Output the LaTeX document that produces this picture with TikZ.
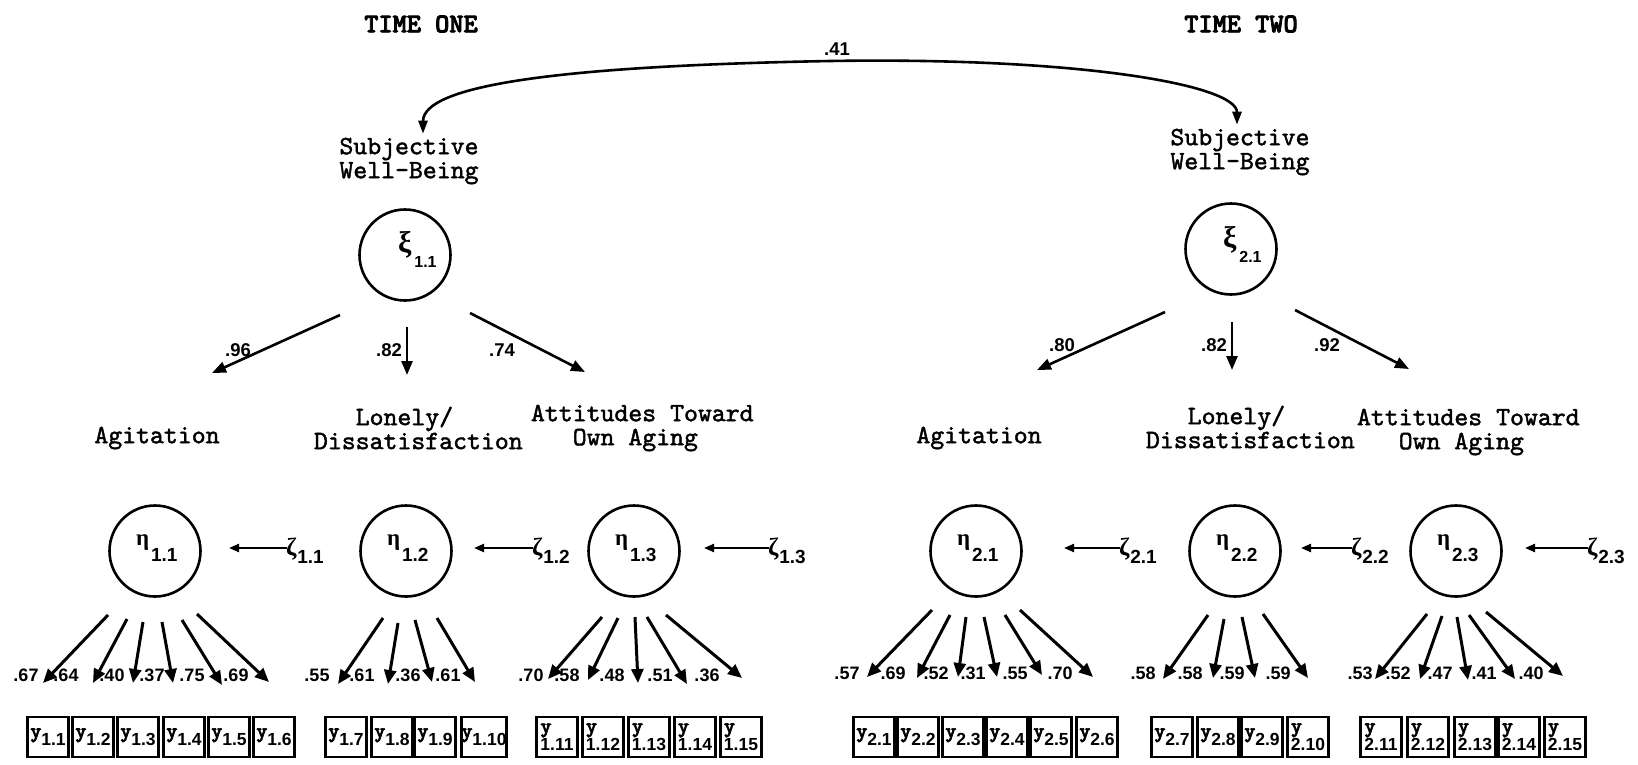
\documentclass[tikz,border=0pt]{standalone}
\usepackage{fontspec}
\newfontfamily\sansfam{Liberation Sans}
\newfontfamily\grkfam{Liberation Serif}
\newfontfamily\labfam{lmmono10-regular.otf}[FakeBold=1.6]
\newfontfamily\ttbfam{lmmonolt10-bold.otf}[FakeBold=3]
\usetikzlibrary{arrows.meta}

% fonts for labels, numbers, subscripts and Greek symbols
\newcommand\labf[1]{\labfam\fontsize{#1}{24}\selectfont}
\newcommand\ttbf[1]{\ttbfam\fontsize{#1}{24}\selectfont}
\newcommand\subf[1]{\sansfam\bfseries\fontsize{#1}{#1}\selectfont}
\newcommand\grkf[1]{\grkfam\bfseries\fontsize{#1}{#1}\selectfont}
\newcommand\xil[1]{{\grkf{30}ξ}\kern3pt\raisebox{-15pt}{\subf{16}#1}}
\newcommand\etal[1]{{\grkf{23}η}\kern2pt\raisebox{-16pt}{\subf{19}#1}}
\newcommand\zetl[1]{{\grkf{25}ζ}\kern1pt\raisebox{-8pt}{\subf{19}#1}}
\newcommand\yb[1]{{\ttbf{21}y}\raisebox{-8pt}{\subf{17.5}#1}}
\newcommand\ystk[1]{\vbox{\baselineskip=15pt\hbox{\ttbf{21}y}\hbox{\subf{17.5}#1}}}
% loading arrow: latent node, start offset, indicator box, tip offset above the box
\newcommand\ld[4]{\draw[loadarrow] ([shift={#2}]#1.center) -- ([shift={#4}]#3.north);}

\tikzset{
  every node/.style={inner sep=0pt, outer sep=0pt},
  lbl/.style={font=\labf{26.5}, align=center},
  ttl/.style={font=\ttbf{27}},
  coef/.style={font=\subf{18.5}},
  lcoef/.style={font=\subf{18}},
  lat/.style={circle, draw, line width=2.6pt, minimum size=91pt},
  obs/.style={draw, line width=2.8pt, minimum width=41pt, minimum height=40pt},
  regarrow/.style={line width=2.6pt, -{Triangle[length=14pt,width=11pt]}},
  loadarrow/.style={line width=3pt, -{Triangle[length=14pt,width=12pt]}},
  disarrow/.style={line width=2.2pt, -{Triangle[length=10pt,width=8pt]}},
  corr/.style={line width=2.6pt, {Triangle[length=13pt,width=9pt]}-{Triangle[length=13pt,width=9pt]}},
}

\begin{document}
\begin{tikzpicture}[x=1pt, y=-1pt]
\useasboundingbox (0,0) rectangle (1638,764);

% ---------- headings ----------
\node[ttl] (time1) at (421,24) {TIME ONE};
\node[ttl] (time2) at (1241,24) {TIME TWO};

% ---------- second-order factors ----------
\node[lbl] (swb1) at (409,161) {Subjective\\Well-Being};
\node[lbl] (swb2) at (1240,152) {Subjective\\Well-Being};
\node[coef] (r41) at (837,49) {.41};
\draw[corr] ([xshift=14pt,yshift=4pt]swb1.north)
  .. controls (423,85) and (560,66) .. (830,61)
  .. controls (1080,57) and (1237,85) .. ([xshift=-3pt,yshift=4pt]swb2.north);

\node[lat] (xi1) at (405,255) {};
\node[anchor=base west] (xi1l) at (398,252) {\xil{1.1}};
\node[lat] (xi2) at (1231,249) {};
\node[anchor=base west] (xi2l) at (1223,247) {\xil{2.1}};

% ---------- first-order factor names ----------
\node[lbl] (ag1) at (157,438) {Agitation};
\node[lbl, align=left, anchor=west] (ld1) at (314,428) {\hphantom{Dis}Lonely/\\Dissatisfaction};
\node[lbl, align=left, anchor=west] (at1) at (531,428) {Attitudes Toward\\\hphantom{Att}Own Aging};
\node[lbl] (ag2) at (979,438) {Agitation};
\node[lbl, align=left, anchor=west] (ld2) at (1146,427) {\hphantom{Dis}Lonely/\\Dissatisfaction};
\node[lbl, align=left, anchor=west] (at2) at (1357,432) {Attitudes Toward\\\hphantom{Att}Own Aging};

% ---------- second-order paths ----------
\draw[regarrow] ([shift={(-65,60)}]xi1.center) -- ([shift={(55,-65)}]ag1.center);
\draw[regarrow] ([shift={(2,72)}]xi1.center) -- ([shift={(93,-53)}]ld1.west);
\draw[regarrow] ([shift={(65,58)}]xi1.center) -- ([shift={(54,-56)}]at1.west);
\node[coef] (g1) at (238,350) {.96};
\node[coef] (g2) at (389,350) {.82};
\node[coef] (g3) at (502,350) {.74};

\draw[regarrow] ([shift={(-66,63)}]xi2.center) -- ([shift={(58,-68)}]ag2.center);
\draw[regarrow] ([shift={(1,73)}]xi2.center) -- ([shift={(86,-57)}]ld2.west);
\draw[regarrow] ([shift={(64,61)}]xi2.center) -- ([shift={(52,-63)}]at2.west);
\node[coef] (g4) at (1062,345) {.80};
\node[coef] (g5) at (1214,345) {.82};
\node[coef] (g6) at (1327,345) {.92};

% ---------- first-order factors and disturbances ----------
\foreach \n/\x/\t in {e11/155/1.1, e12/406/1.2, e13/634/1.3, e21/976/2.1, e22/1235/2.2, e23/1456/2.3}{
  \node[lat] (\n) at (\x,551) {};
  \node[anchor=base west] (\n l) at (\x-19,545) {\etal{\t}};
}
\foreach \n/\x/\t/\len in {z11/286/1.1/58, z12/532/1.2/59, z13/768/1.3/65, z21/1119/2.1/56, z22/1351/2.2/51, z23/1587/2.3/63}{
  \node[anchor=base west] (\n) at (\x,555) {\zetl{\t}};
  \draw[disarrow] ([xshift=1pt,yshift=7pt]\n.base west) -- ++(-\len,0);
}

% ---------- indicators ----------
\foreach \n/\x/\t in {y11/48/1.1, y12/93/1.2, y13/138/1.3, y14/184/1.4, y15/229/1.5, y16/274/1.6,
                      y17/346/1.7, y18/392/1.8, y19/435/1.9, y110/484/1.10,
                      y21/874/2.1, y22/918/2.2, y23/963/2.3, y24/1007/2.4, y25/1051/2.5, y26/1097/2.6,
                      y27/1172/2.7, y28/1218/2.8, y29/1262/2.9}{
  \node[obs] (\n) at (\x,737) {\yb{\t}};
}
\foreach \n/\x/\t in {y111/557/1.11, y112/603/1.12, y113/649/1.13, y114/695/1.14, y115/741/1.15,
                      y210/1308/2.10,
                      y211/1381/2.11, y212/1428/2.12, y213/1475/2.13, y214/1519/2.14, y215/1565/2.15}{
  \node[obs] (\n) at (\x,737) {\ystk{\t}};
}

% ---------- loadings ----------
\ld{e11}{(-47,64)}{y11}{(-5,-34)}
\ld{e11}{(-28,68)}{y12}{(0,-34)}
\ld{e11}{(-12,71)}{y13}{(-5,-34)}
\ld{e11}{(7,71)}{y14}{(-11,-34)}
\ld{e11}{(27,69)}{y15}{(-7,-32)}
\ld{e11}{(42,63)}{y16}{(-5,-35)}

\ld{e12}{(-23,67)}{y17}{(-8,-33)}
\ld{e12}{(-8,72)}{y18}{(-4,-33)}
\ld{e12}{(9,69)}{y19}{(-3,-35)}
\ld{e12}{(31,67)}{y110}{(-9,-35)}

\ld{e13}{(-32,66)}{y111}{(-9,-38)}
\ld{e13}{(-16,67)}{y112}{(-15,-37)}
\ld{e13}{(1,66)}{y113}{(-11,-34)}
\ld{e13}{(13,66)}{y114}{(-8,-33)}
\ld{e13}{(32,64)}{y115}{(1,-39)}

\ld{e21}{(-44,59)}{y21}{(-7,-40)}
\ld{e21}{(-26,64)}{y22}{(-1,-39)}
\ld{e21}{(-10,66)}{y23}{(-5,-40)}
\ld{e21}{(8,66)}{y24}{(-10,-40)}
\ld{e21}{(29,64)}{y25}{(-9,-42)}
\ld{e21}{(44,59)}{y26}{(-4,-40)}

\ld{e22}{(-27,64)}{y27}{(-9,-38)}
\ld{e22}{(-11,68)}{y28}{(-5,-39)}
\ld{e22}{(7,66)}{y29}{(-7,-39)}
\ld{e22}{(28,63)}{y210}{(0,-39)}

\ld{e23}{(-29,63)}{y211}{(-6,-38)}
\ld{e23}{(-14,65)}{y212}{(-8,-38)}
\ld{e23}{(1,66)}{y213}{(-7,-37)}
\ld{e23}{(13,64)}{y214}{(-4,-38)}
\ld{e23}{(30,61)}{y215}{(-2,-41)}

\foreach \n/\x/\t in {k1/26/.67, k2/66/.64, k3/112/.40, k4/152/.37, k5/192/.75, k6/236/.69,
                      k7/317/.55, k8/362/.61, k9/408/.36, k10/448/.61,
                      k11/531/.70, k12/567/.58, k13/612/.48, k14/660/.51, k15/707/.36}{
  \node[lcoef] (\n) at (\x,675) {\t};
}
\foreach \n/\x/\t in {m1/847/.57, m2/893/.69, m3/936/.52, m4/973/.31, m5/1015/.55, m6/1060/.70,
                      m7/1143/.58, m8/1190/.58, m9/1232/.59, m10/1278/.59,
                      m11/1360/.53, m12/1398/.52, m13/1440/.47, m14/1484/.41, m15/1531/.40}{
  \node[lcoef] (\n) at (\x,673) {\t};
}
\end{tikzpicture}
\end{document}
